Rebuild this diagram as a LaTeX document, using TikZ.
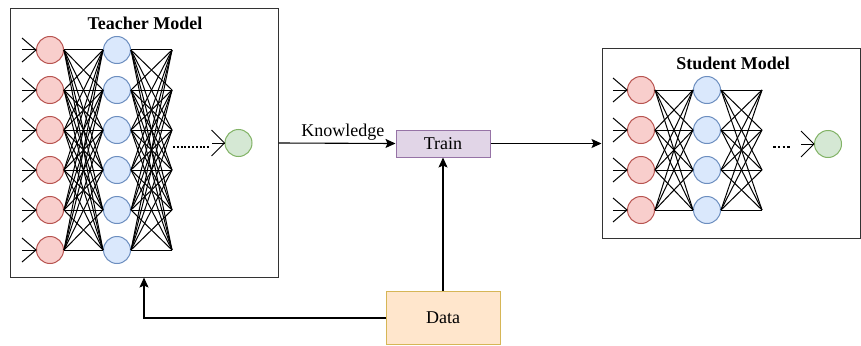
\documentclass[tikz,border=0pt]{standalone}
\usepackage{fontspec}
\setmainfont{Liberation Serif}
\usetikzlibrary{arrows.meta}
\definecolor{rfill}{HTML}{F8CECC}\definecolor{rdraw}{HTML}{B85450}
\definecolor{bfill}{HTML}{DAE8FC}\definecolor{bdraw}{HTML}{6C8EBF}
\definecolor{gfill}{HTML}{D5E8D4}\definecolor{gdraw}{HTML}{82B366}
\definecolor{pfill}{HTML}{E1D5E7}\definecolor{pdraw}{HTML}{9673A6}
\definecolor{ofill}{HTML}{FFE6CC}\definecolor{odraw}{HTML}{D6B656}
\begin{document}
\begin{tikzpicture}[x=1pt,y=-1pt,
  neuron/.style={circle,minimum size=27pt,inner sep=0pt,line width=1pt},
  rn/.style={neuron,fill=rfill,draw=rdraw},
  bn/.style={neuron,fill=bfill,draw=bdraw},
  gn/.style={neuron,fill=gfill,draw=gdraw},
  link/.style={line width=1pt,black},
  inline/.style={line width=1pt,black},
  modelbox/.style={draw=black!80,line width=1pt,fill=none},
  title/.style={font=\fontsize{18}{20}\selectfont\bfseries},
  lbl/.style={font=\fontsize{18}{20}\selectfont},
  arr/.style={line width=1.1pt,-{Stealth[length=10pt,width=9pt,inset=2pt]}},
  procbox/.style={draw,line width=1pt,inner sep=0pt,font=\fontsize{18}{20}\selectfont}]
\useasboundingbox (0,0) rectangle (861,345);

% Teacher
\node[modelbox,minimum width=268pt,minimum height=268pt,inner sep=0pt] (teacher) at (144,143) {};
\node[title] (ttitle) at (145,23) {Teacher Model};
\foreach \i/\y in {1/50,2/90,3/130,4/170,5/210,6/250}{
  \node[rn] (tr\i) at (50,\y) {};
  \node[bn] (tb\i) at (117,\y) {};
  \coordinate (te\i) at (172,\y);
  \coordinate (ti\i) at (22,\y);
}
\foreach \i in {1,...,6}{
  \draw[inline] (ti\i) -- (tr\i.west);
  \draw[inline] (tr\i.west) ++(-14,-12) -- (tr\i.west) -- ++(-14,12);
  \foreach \j in {1,...,6}{
    \draw[link] (tr\i.east) -- (tb\j.west);
    \draw[link] (tb\i.east) -- (te\j);
  }
}
\node[gn] (tg) at (238.5,143) {};
\coordinate (tds) at (173,147);
\coordinate (tde) at (210,147);
\draw[line width=2pt,dash pattern=on 2pt off 1.8pt] (tds) -- (tde);
\coordinate (tgi) at (212,143);
\draw[inline] (tgi) -- (tg.west);
\draw[inline] (tg.west) ++(-13,-13) -- (tg.west) -- ++(-13,13);

% Student
\node[modelbox,minimum width=258pt,minimum height=189pt,inner sep=0pt] (student) at (731,143.5) {};
\node[title] (stitle) at (733,63) {Student Model};
\foreach \i/\y in {1/90,2/130,3/170,4/210}{
  \node[rn] (sr\i) at (641,\y) {};
  \node[bn] (sb\i) at (707,\y) {};
  \coordinate (se\i) at (762,\y);
  \coordinate (si\i) at (613,\y);
}
\foreach \i in {1,...,4}{
  \draw[inline] (si\i) -- (sr\i.west);
  \draw[inline] (sr\i.west) ++(-14,-12) -- (sr\i.west) -- ++(-14,12);
  \foreach \j in {1,...,4}{
    \draw[link] (sr\i.east) -- (sb\j.west);
    \draw[link] (sb\i.east) -- (se\j);
  }
}
\node[gn] (sg) at (828,144) {};
\coordinate (sds) at (773,147);
\coordinate (sde) at (791,147);
\draw[line width=2.6pt,dash pattern=on 2.6pt off 2.2pt] (sds) -- (sde);
\coordinate (sgi) at (801,144);
\draw[inline] (sgi) -- (sg.west);
\draw[inline] (sg.west) ++(-13,-13) -- (sg.west) -- ++(-13,13);

% Train and Data
\node[procbox,fill=pfill,draw=pdraw,minimum width=94pt,minimum height=27pt] (train) at (443,143.5) {Train};
\node[procbox,fill=ofill,draw=odraw,minimum width=114pt,minimum height=53pt] (data) at (443,318) {Data};

\draw[arr] (teacher.east) -- node[lbl,above=-1pt,pos=0.55] (know) {Knowledge} (train.west);
\draw[arr] (train.east) -- (student.west);
\draw[arr] (data.north) -- (train.south);
\draw[arr] (data.west) -| (teacher.south);
\end{tikzpicture}
\end{document}
